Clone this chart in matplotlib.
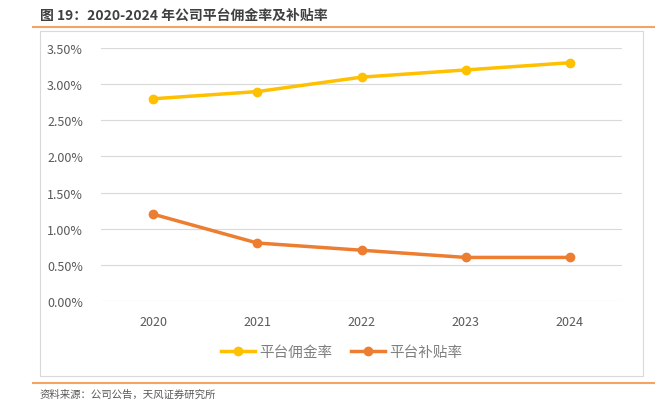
import matplotlib
matplotlib.use("Agg")
import matplotlib.pyplot as plt
from matplotlib.patches import Rectangle
from matplotlib.lines import Line2D
from matplotlib.ticker import FuncFormatter

plt.rcParams['font.family'] = ['Noto Sans CJK SC', 'DejaVu Sans']

years = ["2020", "2021", "2022", "2023", "2024"]
commission = [2.80, 2.90, 3.10, 3.20, 3.30]
subsidy = [1.20, 0.80, 0.70, 0.60, 0.60]
series_names = ["平台佣金率", "平台补贴率"]
title = "图 19：2020-2024 年公司平台佣金率及补贴率"
source = "资料来源：公司公告，天风证券研究所"

W, H = 655, 410
fig = plt.figure(figsize=(W / 100, H / 100), dpi=100)

def fx(x): return x / W
def fy(y): return 1 - y / H

# title and rules
fig.text(fx(40), fy(16), title, fontsize=10, fontweight='bold', color='#404040', va='center', ha='left')
fig.add_artist(Line2D([fx(33), fx(655)], [fy(28), fy(28)], color='#F4A460', lw=1.5))
fig.add_artist(Line2D([fx(33), fx(655)], [fy(384), fy(384)], color='#F4A460', lw=1.5))
fig.text(fx(40), fy(395), source, fontsize=7.5, color='#595959', va='center', ha='left')

# chart box
fig.add_artist(Rectangle((fx(40), fy(377)), fx(643) - fx(40), fy(32) - fy(377),
                         transform=fig.transFigure, fill=False, edgecolor='#D9D9D9', lw=0.8))

ax = fig.add_axes([fx(101), fy(301.7), fx(622) - fx(101), fy(49.3) - fy(301.7)])
x = list(range(len(years)))
ax.plot(x, commission, color='#FFC000', lw=2.5, marker='o', ms=6, label=series_names[0], zorder=3)
ax.plot(x, subsidy, color='#ED7D31', lw=2.5, marker='o', ms=6, label=series_names[1], zorder=3)

ax.set_xlim(-0.5, len(years) - 0.5)
ax.set_ylim(0, 3.5)
ax.set_yticks([0, 0.5, 1.0, 1.5, 2.0, 2.5, 3.0, 3.5])
ax.yaxis.set_major_formatter(FuncFormatter(lambda v, p: f"{v:.2f}%"))
ax.set_xticks(x)
ax.set_xticklabels(years)
ax.grid(axis='y', color='#D9D9D9', lw=0.8)
ax.set_axisbelow(True)
for s in ax.spines.values():
    s.set_visible(False)
ax.tick_params(axis='both', length=0, labelsize=9, labelcolor='#595959')
ax.tick_params(axis='y', pad=13)
ax.tick_params(axis='x', pad=10)

leg = fig.legend(handles=ax.get_lines(), labels=series_names, loc='center',
                 bbox_to_anchor=(fx(342), fy(353)), ncol=2, frameon=False,
                 fontsize=10.5, labelcolor='#7F7F7F', handlelength=2.3, columnspacing=1.3,
                 handletextpad=0.3)

fig.savefig("out.png", dpi=100)
